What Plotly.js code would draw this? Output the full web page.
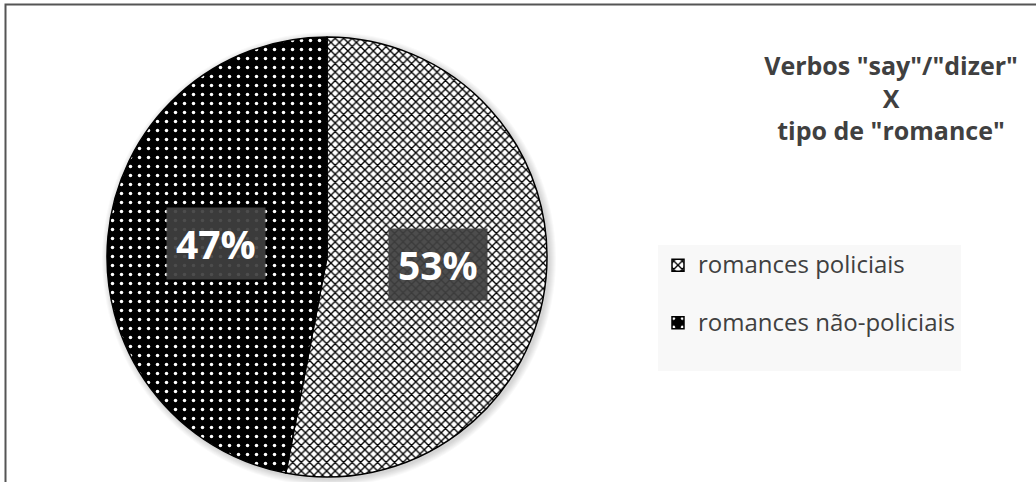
<!DOCTYPE html>
<html>
<head>
<meta charset="utf-8">
<script src="https://cdn.plot.ly/plotly-3.0.1.min.js"></script>
<style>html,body{margin:0;padding:0;background:#fff;}#chart{width:1036px;height:482px;}</style>
</head>
<body>
<div id="chart"></div>
<script>
// ---- data ----
const categories = ["romances policiais", "romances não-policiais"];
const values = [53, 47];
const titleLines = ['Verbos "say"/"dizer"', 'X', 'tipo de "romance"'];

// ---- geometry (pixels) ----
const W = 1036, H = 482;
const cx = 327, cy = 257, R = 220;
const dom = {x: [(cx - R) / W, (cx + R) / W], y: [1 - (cy + R) / H, 1 - (cy - R) / H]};

const total = values.reduce((a, b) => a + b, 0);
const annotations = [];
let acc = 0;
values.forEach((v, i) => {
  const mid = (acc + v / 2) / total * 2 * Math.PI;
  acc += v;
  const r = R * 0.505;
  const px = cx + r * Math.sin(mid);
  const py = cy - r * Math.cos(mid) - 3;
  annotations.push({
    xref: 'paper', yref: 'paper', x: px / W, y: 1 - py / H,
    xanchor: 'center', yanchor: 'middle', showarrow: false,
    text: '<b>' + Math.round(v / total * 100) + '%</b>',
    font: {family: '"Open Sans", sans-serif', size: 39, color: '#ffffff'},
    bgcolor: 'rgba(64,64,64,0.93)', borderpad: 9
  });
});

const shapes = [];
for (let k = 7; k >= 1; k--) {
  shapes.push({type: 'circle', xref: 'paper', yref: 'paper', layer: 'below',
    x0: (cx - R - k + 2) / W, x1: (cx + R + k + 2) / W,
    y0: 1 - (cy + R + k + 2) / H, y1: 1 - (cy - R - k + 2) / H,
    line: {width: 0}, fillcolor: 'rgba(0,0,0,0.025)'});
}
shapes.push({type: 'rect', xref: 'paper', yref: 'paper',
  x0: 5.5 / W, x1: 1.02, y0: -0.02, y1: 1 - 4.5 / H,
  line: {color: '#555555', width: 2}, fillcolor: 'rgba(0,0,0,0)'});

const trace = {
  type: 'pie',
  labels: categories.map(c => '<span style="font-size:24px">' + c + '</span><br> '),
  values: values,
  sort: false,
  direction: 'clockwise',
  rotation: 0,
  domain: dom,
  textinfo: 'none',
  hoverinfo: 'percent',
  marker: {
    colors: ['#ffffff', '#000000'],
    line: {color: '#000000', width: 1.5},
    pattern: {
      shape: ['x', '.'],
      fgcolor: ['#000000', '#ffffff'],
      bgcolor: ['#ffffff', '#000000'],
      size: [6, 9],
      solidity: [0.4, 0.12]
    }
  }
};

const layout = {
  width: W, height: H,
  margin: {l: 0, r: 0, t: 0, b: 0},
  paper_bgcolor: '#ffffff',
  showlegend: true,
  title: {
    text: '<b>' + titleLines.join('<br>') + '</b>',
    x: 891 / W, xanchor: 'center', xref: 'paper',
    y: 1 - 75 / H, yanchor: 'top', yref: 'paper',
    font: {family: '"Open Sans", sans-serif', size: 25, color: '#404040'}
  },
  legend: {
    x: 658 / W, xanchor: 'left', y: 1 - 245 / H, yanchor: 'top',
    bgcolor: '#f8f8f8', valign: 'top',
    font: {family: '"Open Sans", sans-serif', size: 21, color: '#404040'}
  },
  annotations: annotations,
  shapes: shapes
};

Plotly.newPlot('chart', [trace], layout, {displayModeBar: false, staticPlot: true});
</script>
</body>
</html>
